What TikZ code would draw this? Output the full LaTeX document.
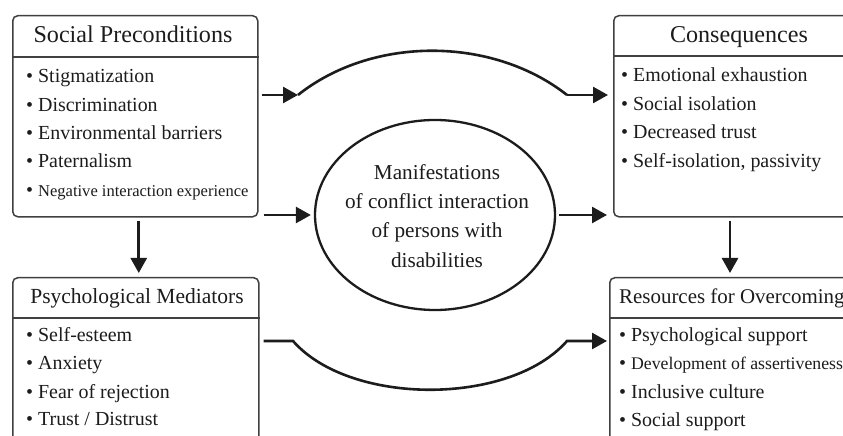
\documentclass[tikz,border=0pt]{standalone}
\usepackage{fontspec}
\setmainfont{Liberation Serif}
\usepackage{tikz}
\usetikzlibrary{arrows.meta,shapes.geometric}
\definecolor{inkgray}{HTML}{1C1C1C}
\definecolor{framegray}{HTML}{404040}

\begin{document}
\begin{tikzpicture}[x=1bp,y=1bp]
	\tikzstyle{every node}+=[inner sep=0pt, text=inkgray]
	\tikzstyle{panel}=[draw=framegray, line width=1.5bp, rounded corners=5bp, anchor=north west]
	\tikzstyle{rule}=[draw=framegray, line width=1.5bp]
	\tikzstyle{head}=[font=\fontsize{24.2}{28}\selectfont, anchor=base]
	\tikzstyle{item}=[font=\fontsize{20}{24}\selectfont, anchor=base west]
	\tikzstyle{conflict}=[draw=inkgray, ellipse, line width=2.3bp, minimum width=240bp, minimum height=190bp]
	\tikzstyle{conn}=[draw=inkgray, line width=2.6bp]
	\tikzstyle{flow}=[conn, -{Triangle[length=15bp,width=16bp]}]
	\useasboundingbox (0,0) rectangle (843,-436);
	\fill [white] (0,0) rectangle (843,-436);
	% social preconditions
	\draw (12,-15) node [panel, minimum width=245bp, minimum height=201bp] (socbox) {};
	\draw [rule] (socbox.west |- 0,-57) -- (socbox.east |- 0,-57);
	\draw (133,-43) node [head] (soctitle) {Social Preconditions};
	\draw (26,-83) node [item] (soc1) {\textbullet\ Stigmatization};
	\draw (26,-111.3) node [item] (soc2) {\textbullet\ Discrimination};
	\draw (26,-139.6) node [item] (soc3) {\textbullet\ Environmental barriers};
	\draw (26,-167.9) node [item] (soc4) {\textbullet\ Paternalism};
	\draw (26,-196.2) node [item] (soc5) {\textbullet\ \fontsize{16.6}{20}\selectfont Negative interaction experience};
	% consequences
	\draw (613,-15) node [panel, minimum width=252bp, minimum height=201bp] (conbox) {};
	\draw [rule] (conbox.west |- 0,-56) -- (conbox.east |- 0,-56);
	\draw (739,-43) node [head] (contitle) {Consequences};
	\draw (621,-82) node [item] (con1) {\textbullet\ Emotional exhaustion};
	\draw (621,-110.5) node [item] (con2) {\textbullet\ Social isolation};
	\draw (621,-139) node [item] (con3) {\textbullet\ Decreased trust};
	\draw (621,-167.5) node [item] (con4) {\textbullet\ Self-isolation, passivity};
	% psychological mediators
	\draw (12,-277) node [panel, minimum width=246bp, minimum height=180bp] (psybox) {};
	\draw [rule] (psybox.west |- 0,-318) -- (psybox.east |- 0,-318);
	\draw (137,-304) node [head, font=\fontsize{21.6}{26}\selectfont] (psytitle) {Psychological Mediators};
	\draw (26,-342) node [item] (psy1) {\textbullet\ Self-esteem};
	\draw (26,-370) node [item] (psy2) {\textbullet\ Anxiety};
	\draw (26,-398) node [item] (psy3) {\textbullet\ Fear of rejection};
	\draw (26,-425.5) node [item] (psy4) {\textbullet\ Trust / Distrust};
	% resources for overcoming
	\draw (609,-277) node [panel, minimum width=256bp, minimum height=180bp] (resbox) {};
	\draw [rule] (resbox.west |- 0,-318) -- (resbox.east |- 0,-318);
	\draw (619,-304) node [head, anchor=base west, font=\fontsize{21}{25}\selectfont] (restitle) {Resources for Overcoming};
	\draw (619,-342) node [item] (res1) {\textbullet\ Psychological support};
	\draw (619,-370) node [item] (res2) {\textbullet\ \fontsize{17.8}{20}\selectfont Development of assertiveness};
	\draw (619,-398) node [item] (res3) {\textbullet\ Inclusive culture};
	\draw (619,-426) node [item] (res4) {\textbullet\ Social support};
	% manifestations
	\draw (435,-215) node [conflict] (manif) {};
	\draw (437,-216) node [align=center, font=\fontsize{21.3}{29.3}\selectfont] (maniftext) {Manifestations\\of conflict interaction\\of persons with\\disabilities};
	% connectors
	\coordinate (topL) at (298,-95);
	\coordinate (topR) at (567,-95);
	\draw [flow, shorten <=3bp] (socbox.east |- topL) -- (topL);
	\draw [conn] (topL) .. controls (372,-36) and (492,-36) .. (topR);
	\draw [flow, shorten >=5bp] (topR) -- (conbox.west |- topR);
	\draw [flow, shorten <=5bp, shorten >=3bp] (socbox.east |- manif.west) -- (manif.west);
	\draw [flow, shorten <=3bp, shorten >=6bp] (manif.east) -- (conbox.west |- manif.east);
	\draw [flow, shorten <=3bp, shorten >=4bp] ([xshift=3.5bp]socbox.south) -- ([xshift=3.5bp]socbox.south |- psybox.north);
	\draw [flow, shorten <=3bp, shorten >=4bp] ([xshift=117bp]conbox.south west) -- ([xshift=117bp]conbox.south west |- resbox.north);
	\coordinate (botL) at (293,-341);
	\coordinate (botR) at (567,-341);
	\draw [flow, shorten <=4bp, shorten >=2bp] (psybox.east |- botL) -- (botL) .. controls (350,-406) and (510,-406) .. (botR) -- (resbox.west |- botR);
\end{tikzpicture}
\end{document}
